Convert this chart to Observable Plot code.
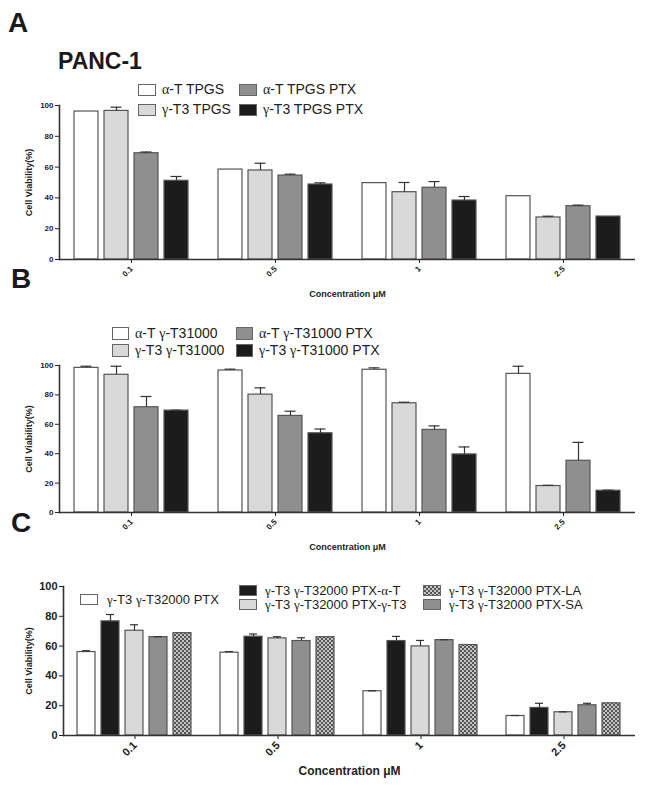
<!DOCTYPE html>
<html><head><meta charset="utf-8">
<script src="https://cdn.jsdelivr.net/npm/d3@7"></script>
<script src="https://cdn.jsdelivr.net/npm/@observablehq/plot@0.6"></script>
<style>
body{margin:0;background:#fff;font-family:"Liberation Sans",Arial,sans-serif;color:#1a1a1a}
#root{position:relative;width:654px;height:797px;overflow:hidden;background:#fff}
.letter{position:absolute;font-weight:bold;font-size:28px;line-height:1;z-index:3}
.title{position:absolute;font-weight:bold;font-size:23px;line-height:1;z-index:3}
.plot{position:absolute;left:0;z-index:1}
.legend{position:absolute;display:grid;align-items:center;white-space:nowrap;color:#222;z-index:3}
.item{display:flex;align-items:center}
.sw{box-sizing:border-box;border:1px solid #666;flex:none}
.g{font-family:"Liberation Serif","DejaVu Serif",serif}
</style></head>
<body>
<svg width="0" height="0" style="position:absolute">
  <defs>
    <pattern id="checker" width="4" height="4" patternUnits="userSpaceOnUse">
      <rect width="4" height="4" fill="#c4c4c4"/>
      <rect width="2" height="2" fill="#555555"/>
      <rect x="2" y="2" width="2" height="2" fill="#555555"/>
    </pattern>
  </defs>
</svg>
<div id="root">
  <div class="letter" style="left:8px;top:9px">A</div>
  <div class="title" style="left:58px;top:50px">PANC-1</div>
  <div class="letter" style="left:11px;top:265px">B</div>
  <div class="letter" style="left:11px;top:509px">C</div>
  <div id="legA" class="legend" style="left:138px;top:82px;font-size:14px;line-height:14px;grid-template-columns:101px auto;row-gap:5px"></div>
  <div id="legB" class="legend" style="left:112px;top:326px;font-size:14px;line-height:14px;grid-template-columns:124px auto;row-gap:2px"></div>
  <div id="legC" class="legend" style="left:80px;top:584px;font-size:13px;line-height:13px;grid-template-columns:159px 184px auto;row-gap:1px"></div>
  <div id="pA" class="plot" style="top:95px"></div>
  <div id="pB" class="plot" style="top:355px"></div>
  <div id="pC" class="plot" style="top:576px"></div>
</div>
<script>
// ---------- data ----------
const concentrations = ["0.1", "0.5", "1", "2.5"];
const yTicks = [0, 20, 40, 60, 80, 100];

// Panel A
const seriesA = ["α-T TPGS", "γ-T3 TPGS", "α-T TPGS PTX", "γ-T3 TPGS PTX"];
const meansA = [ // rows: concentrations, cols: series
  [96.1, 96.5, 69.0, 51.1],
  [58.4, 57.8, 54.5, 48.7],
  [49.6, 43.7, 46.6, 38.3],
  [41.1, 27.3, 34.6, 27.9]
];
const errsA = [
  [0, 2.4, 0.8, 2.8],
  [0, 4.7, 0.9, 1.1],
  [0, 6.3, 4.0, 2.6],
  [0, 0.8, 0.7, 0]
];

// Panel B
const seriesB = ["α-T γ-T31000", "γ-T3 γ-T31000", "α-T γ-T31000 PTX", "γ-T3 γ-T31000 PTX"];
const meansB = [
  [98.4, 93.7, 71.6, 69.3],
  [96.6, 80.2, 65.7, 53.9],
  [97.1, 74.3, 56.2, 39.5],
  [94.3, 18.0, 35.2, 14.8]
];
const errsB = [
  [1.1, 5.8, 7.3, 0.3],
  [0.9, 4.6, 3.2, 2.9],
  [1.3, 0.7, 2.7, 5.1],
  [5.2, 0.5, 12.5, 0.4]
];

// Panel C
const seriesC = ["γ-T3 γ-T32000 PTX", "γ-T3 γ-T32000 PTX-α-T", "γ-T3 γ-T32000 PTX-γ-T3", "γ-T3 γ-T32000 PTX-SA", "γ-T3 γ-T32000 PTX-LA"];
const meansC = [
  [56.0, 76.6, 70.3, 66.0, 68.7],
  [55.6, 66.3, 65.2, 63.4, 66.0],
  [29.7, 63.4, 59.8, 64.0, 60.7],
  [13.1, 18.5, 15.6, 20.3, 21.6]
];
const errsC = [
  [0.9, 4.6, 4.0, 0.3, 0],
  [0.7, 1.8, 1.1, 2.2, 0],
  [0.3, 3.1, 4.0, 0.3, 0],
  [0.3, 3.1, 0.3, 1.3, 0]
];

// ---------- styles ----------
const fillsA = ["#ffffff", "#d9d9d9", "#8f8f8f", "#1c1c1c"];
const fillsC = ["#ffffff", "#1c1c1c", "#d9d9d9", "#8f8f8f", "url(#checker)"];

function rows(series, means, errs) {
  const out = [];
  concentrations.forEach((c, i) => series.forEach((s, j) =>
    out.push({conc: c, series: s, value: means[i][j], err: errs[i][j]})));
  return out;
}

function panel(el, {series, means, errs, fills, height, marginLeft, marginBottom,
                    padIn, padOut, capInset, tickFont, labelFont, yLabelFont, fxLabelOffset, yLabelOffset}) {
  const data = rows(series, means, errs);
  const withErr = data.filter(d => d.err > 0);
  const chart = Plot.plot({
    width: 654, height,
    marginLeft, marginRight: 19, marginTop: 10, marginBottom,
    style: {fontFamily: "'Liberation Sans', Arial, sans-serif", background: "transparent", color: "#222"},
    fx: {domain: concentrations, padding: 0},
    x: {domain: series, paddingInner: padIn, paddingOuter: padOut, axis: null},
    y: {domain: [0, 100]},
    color: {type: "ordinal", domain: series, range: fills},
    marks: [
      Plot.barY(data, {fx: "conc", x: "series", y: "value", fill: "series", stroke: "#555", strokeWidth: 1.2}),
      Plot.ruleX(withErr, {fx: "conc", x: "series", y1: "value", y2: d => d.value + d.err, stroke: "#333", strokeWidth: 1.2}),
      Plot.tickY(withErr, {fx: "conc", x: "series", y: d => d.value + d.err, insetLeft: capInset, insetRight: capInset, stroke: "#333", strokeWidth: 1.2}),
      Plot.ruleY([0], {stroke: "#333", strokeWidth: 1.6}),
      Plot.frame({anchor: "left", facetAnchor: "left", stroke: "#333", strokeWidth: 1.6}),
      Plot.axisY({ticks: yTicks, tickSize: 4, tickPadding: 2, fontSize: tickFont, fontWeight: "bold",
                  label: null}),
      Plot.axisY({ticks: [], tickSize: 0, label: "Cell Viability(%)", labelAnchor: "center", labelArrow: "none",
                  labelOffset: yLabelOffset, fontSize: yLabelFont, fontWeight: "bold"}),
      Plot.axisFx({anchor: "bottom", tickRotate: -45, tickSize: 4, tickPadding: 4, fontSize: tickFont, fontWeight: "bold",
                   label: null}),
      Plot.axisFx({anchor: "bottom", ticks: [], tickSize: 0, label: "Concentration μM", labelAnchor: "center", labelArrow: "none",
                   labelOffset: fxLabelOffset, fontSize: labelFont, fontWeight: "bold"})
    ]
  });
  document.getElementById(el).appendChild(chart);
}

panel("pA", {series: seriesA, means: meansA, errs: errsA, fills: fillsA, height: 210, marginLeft: 58, marginBottom: 46,
  padIn: 0.21, padOut: 0.47, capInset: 6.5, tickFont: 8, labelFont: 9, yLabelFont: 9, fxLabelOffset: 37, yLabelOffset: 34});
panel("pB", {series: seriesB, means: meansB, errs: errsB, fills: fillsA, height: 198, marginLeft: 58, marginBottom: 41,
  padIn: 0.21, padOut: 0.47, capInset: 6.5, tickFont: 8, labelFont: 9, yLabelFont: 9, fxLabelOffset: 37, yLabelOffset: 34});
panel("pC", {series: seriesC, means: meansC, errs: errsC, fills: fillsC, height: 204, marginLeft: 63, marginBottom: 45,
  padIn: 0.23, padOut: 0.51, capInset: 5, tickFont: 11, labelFont: 12, yLabelFont: 9, fxLabelOffset: 39, yLabelOffset: 38});

// ---------- legends ----------
function greek(s) { return s.replace(/([αγ])/g, '<span class="g">$1</span>'); }
function item(label, fill, w, h, gap) {
  const d = document.createElement("div");
  d.className = "item";
  const sw = fill.startsWith("url")
    ? `<svg class="sw" width="${w}" height="${h}" style="margin-right:${gap}px"><rect width="${w}" height="${h}" fill="${fill}"/></svg>`
    : `<span class="sw" style="width:${w}px;height:${h}px;background:${fill};margin-right:${gap}px"></span>`;
  d.innerHTML = sw + `<span>${greek(label)}</span>`;
  return d;
}
// A and B: column-major 2x2 (white/light in col1, dark/black in col2)
function legend2(id, series, fills, w, h, gap) {
  const el = document.getElementById(id);
  [0, 2, 1, 3].forEach(i => el.appendChild(item(series[i], fills[i], w, h, gap)));
}
legend2("legA", seriesA, fillsA, 18, 12, 6);
legend2("legB", seriesB, fillsA, 17, 13, 6);
(function () {
  const el = document.getElementById("legC");
  const first = item(seriesC[0], fillsC[0], 18, 11, 9);
  first.style.gridRow = "1 / span 2"; first.style.gridColumn = "1";
  first.style.alignSelf = "center";
  first.style.marginTop = "4px";
  el.appendChild(first);
  const placements = [[1, 1, 2], [2, 2, 2], [4, 1, 3], [3, 2, 3]];
  placements.forEach(([i, r, c]) => {
    const it = item(seriesC[i], fillsC[i], 18, 11, 8);
    it.style.gridRow = String(r); it.style.gridColumn = String(c);
    el.appendChild(it);
  });
})();
</script>
</body></html>
